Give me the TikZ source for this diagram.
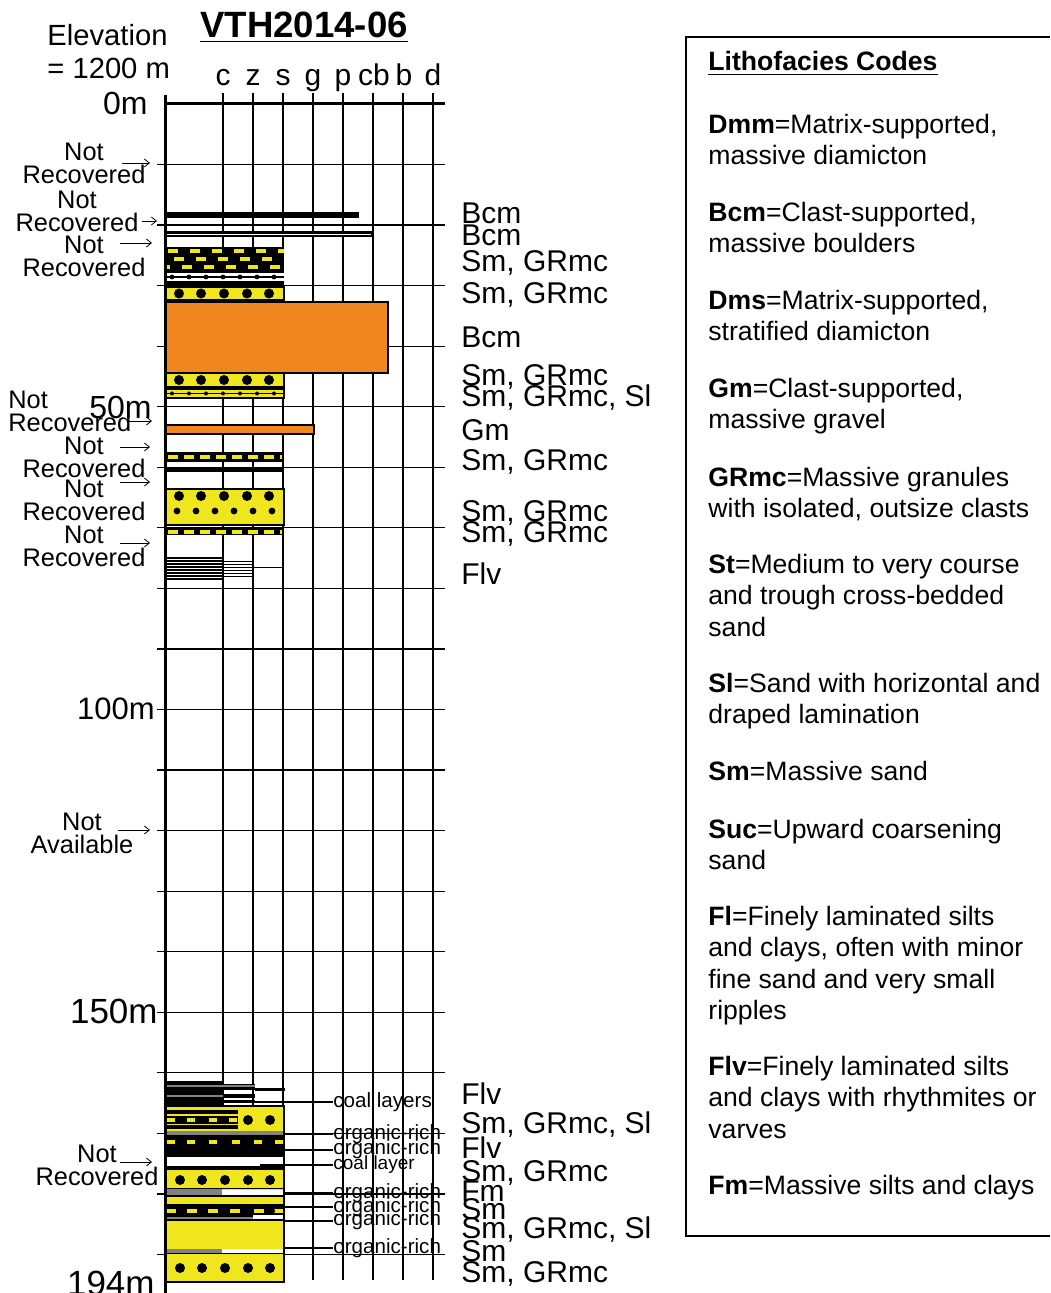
\documentclass[tikz,border=0pt]{standalone}
\usepackage{fontspec}
\setmainfont{Liberation Sans}
\usetikzlibrary{arrows.meta}
\definecolor{sandyellow}{RGB}{240,230,30}
\definecolor{bouldorange}{RGB}{240,135,30}
\definecolor{orggrey}{RGB}{130,130,130}

\begin{document}
\begin{tikzpicture}[x=0.5pt,y=-0.5pt,
  gridline/.style={line width=0.6pt},
  sandbed/.style={fill=sandyellow,draw=black,line width=0.9pt},
  gravelbed/.style={fill=bouldorange,draw=black,line width=1pt},
  sanddash/.style={draw=sandyellow,line width=2pt},
  notearrow/.style={-{Straight Barb[length=2.5pt,width=4pt]},line width=0.4pt},
  nrlabel/.style={align=center,inner sep=0,font=\fontsize{12.7}{11.5}\selectfont},
  depthlabel/.style={anchor=east,inner sep=0,font=\fontsize{16}{16}\selectfont},
  grainsize/.style={anchor=base,inner sep=0,font=\fontsize{15}{15}\selectfont},
  facies/.style={anchor=base west,inner sep=0,font=\fontsize{15}{15}\selectfont},
  note/.style={anchor=west,inner sep=0,font=\fontsize{10.3}{10.3}\selectfont},
  keyentry/.style={anchor=north west,align=left,inner sep=0,font=\fontsize{13.3}{15.6}\selectfont}]
\useasboundingbox (0,0) rectangle (1050,1293);

% grid: one line every 10 m
\foreach \k in {1,...,19}
  \draw[gridline] (157,{104+60.55*\k}) -- (445,{104+60.55*\k});
\foreach \c in {223,253,...,433}
  \draw[gridline] (\c,93) -- (\c,1280);
\draw[line width=1.5pt] (165,104) -- (445,104);

% header
\node[anchor=base,inner sep=0,font=\fontsize{18.3}{18.3}\selectfont\bfseries] (title) at (304,38) {\underline{VTH2014-06}};
\node[anchor=west,align=left,inner sep=0,font=\fontsize{14.6}{16.5}\selectfont] (elev) at (47,52) {Elevation\\= 1200 m};
\foreach \c/\g in {223/c,253/z,283/s,313/g,343/p,374/cb,404/b,433/d}
  \node[grainsize] (gs-\g) at (\c,86) {\g};

% depth labels
\node[depthlabel] (d0) at (148,103) {0m};
\node[depthlabel] (d50) at (152,407) {50m};
\node[depthlabel,font=\fontsize{15.5}{15.5}\selectfont] (d100) at (155,709) {100m};
\node[depthlabel,font=\fontsize{17.5}{17.5}\selectfont] (d150) at (158,1011) {150m};
\node[depthlabel,font=\fontsize{17.5}{17.5}\selectfont] (d194) at (155,1283) {194m};

% upper beds
\fill (165,212) rectangle (359,218);
\fill (165,231) rectangle (374,237);
\draw[white,line width=0.3pt] (165,234) -- (371,234);
\fill (165,247) rectangle (284,287);
\draw[sanddash,dash pattern=on 5pt off 6pt] (168,251) -- (284,251);
\draw[sanddash,dash pattern=on 5pt off 6pt,dash phase=7pt] (166,259) -- (284,259);
\draw[sanddash,dash pattern=on 5pt off 6pt,dash phase=3pt] (166,267) -- (284,267);
\fill[white] (165,273) rectangle (284,281);
\draw[line width=0.8pt] (165,277) -- (284,277);
\foreach \x in {172,189,...,280} \fill (\x,277) circle[radius=1.2pt];
\draw[sandbed] (165,287) rectangle (284,300);
\foreach \x in {179,201,224,247,269} \fill (\x,293.5) circle[radius=2.5pt];
\draw[gravelbed] (165,302) rectangle (388,373);
\draw[sandbed] (165,373) rectangle (284,387);
\foreach \x in {179,201,224,247,269} \fill (\x,380) circle[radius=2.5pt];
\draw[sandbed] (165,389) rectangle (284,398);
\draw[line width=0.6pt] (165,393.5) -- (284,393.5);
\foreach \x in {172,189,...,280} \fill (\x,393.5) circle[radius=1pt];
\draw[gravelbed] (165,425) rectangle (314,434);
\fill (165,452) rectangle (284,462);
\draw[sanddash,dash pattern=on 5pt off 3pt] (168,457) -- (282,457);
\fill (165,467) rectangle (284,472);
\draw[sandbed] (165,489) rectangle (284,525);
\foreach \x in {179,201,224,247,269} \fill (\x,496) circle[radius=2.5pt];
\foreach \x in {177,196,215,234,253,272} \fill (\x,511) circle[radius=1.7pt];
\fill (165,528) rectangle (284,535);
\draw[sanddash,dash pattern=on 5pt off 3pt] (168,531.5) -- (282,531.5);
% laminated silts
\foreach \y in {558,561,...,580} \draw[line width=1.2pt] (165,\y) -- (223,\y);
\foreach \y in {561,564,...,576} \draw[line width=0.5pt] (223,\y) -- (253,\y);
\draw[line width=0.5pt] (253,567) -- (284,567);

% lower beds
\fill (165,1081) rectangle (223,1106);
\fill (223,1084) rectangle (255,1090);
\fill (255,1088) rectangle (285,1091);
\fill (223,1094) rectangle (255,1098);
\fill (223,1100) rectangle (255,1103);
\draw[orggrey,line width=0.6pt] (165,1086) -- (255,1086);
\draw[orggrey,line width=0.6pt] (165,1096) -- (223,1096);
\draw[sandbed] (165,1106) rectangle (284,1282);
\fill (165,1110) rectangle (238,1114);
\fill (165,1116) rectangle (238,1124);
\foreach \x in {171,191,213,233} \draw[sanddash] (\x-4,1120) -- (\x+4,1120);
\foreach \x in {248,270} \fill (\x,1120) circle[radius=2.5pt];
\fill (165,1125) rectangle (238,1129);
\fill[orggrey] (165,1131) rectangle (284,1135);
\fill (165,1135) rectangle (284,1157);
\foreach \x in {171,191,213,236,258,279} \draw[sanddash] (\x-4,1141.5) -- (\x+4,1141.5);
\fill[white] (165,1157) rectangle (284,1166);
\fill (165,1166) rectangle (284,1170);
\foreach \x in {180,202,225,248,270} \fill (\x,1180) circle[radius=2.5pt];
\fill (165,1188) rectangle (284,1189);
\fill[orggrey] (165,1189) rectangle (222,1195);
\fill[white] (222,1189.5) rectangle (284,1195);
\fill (165,1195) rectangle (284,1197);
\fill (165,1204) rectangle (284,1221);
\foreach \x in {171,192,213,235,259,279} \draw[sanddash] (\x-5,1211) -- (\x+5,1211);
\fill (270,1211) circle[radius=2.5pt];
\draw[orggrey,line width=0.8pt] (165,1218) -- (253,1218);
\fill[white] (253,1215) rectangle (284,1219);
\fill[orggrey] (165,1249) rectangle (222,1253);
\fill[white] (222,1249) rectangle (284,1253);
\fill (165,1253) rectangle (284,1254);
\foreach \x in {180,202,225,248,270} \fill (\x,1268) circle[radius=2.5pt];
\draw[line width=0.9pt] (165,1106) rectangle (284,1282);

% depth axis
\draw[line width=1.5pt] (165,95) -- (165,1293);

% facies codes
\node[facies] (lf1) at (461,224) {Bcm};
\node[facies] (lf2) at (461,246) {Bcm};
\node[facies] (lf3) at (461,272) {Sm, GRmc};
\node[facies] (lf4) at (461,304) {Sm, GRmc};
\node[facies] (lf5) at (461,348) {Bcm};
\node[facies] (lf6) at (461,386) {Sm, GRmc};
\node[facies] (lf7) at (461,407) {Sm, GRmc, Sl};
\node[facies] (lf8) at (461,441) {Gm};
\node[facies] (lf9) at (461,471) {Sm, GRmc};
\node[facies] (lf10) at (461,521) {Sm, GRmc};
\node[facies] (lf11) at (461,542) {Sm, GRmc};
\node[facies] (lf12) at (461,584) {Flv};
\node[facies] (lf13) at (461,1104) {Flv};
\node[facies] (lf14) at (461,1133) {Sm, GRmc, Sl};
\node[facies] (lf15) at (461,1158) {Flv};
\node[facies] (lf16) at (461,1181) {Sm, GRmc};
\node[facies] (lf17) at (461,1201) {Fm};
\node[facies] (lf18) at (461,1219) {Sm};
\node[facies] (lf19) at (461,1238) {Sm, GRmc, Sl};
\node[facies] (lf20) at (461,1261) {Sm};
\node[facies] (lf21) at (461,1282) {Sm, GRmc};

% notes on the lower beds
\node[note] (coal1) at (333,1102) {coal layers};
\node[note] (org1) at (333,1134) {organic-rich};
\node[note] (org2) at (333,1149) {organic-rich};
\node[note,font=\fontsize{9.5}{9.5}\selectfont] (coal2) at (333,1165) {coal layer};
\node[note] (org3) at (333,1193) {organic-rich};
\node[note] (org4) at (333,1207) {organic-rich};
\node[note] (org5) at (333,1220) {organic-rich};
\node[note] (org6) at (333,1248) {organic-rich};
\coordinate (c1) at (255,1102);
\coordinate (o1) at (284,1134);
\coordinate (o2) at (284,1150);
\coordinate (c2) at (260,1165);
\coordinate (o3) at (284,1193);
\coordinate (o4) at (284,1207);
\coordinate (o5) at (284,1221);
\coordinate (o6) at (284,1248);
\draw[line width=0.6pt] (c1) -- (c1 -| coal1.west);
\draw[line width=0.6pt] (o1) -- (o1 -| org1.west);
\draw[line width=0.6pt] (o2) -- (o2 -| org2.west);
\draw[line width=0.6pt] (c2) -- (c2 -| coal2.west);
\draw[line width=0.6pt] (o3) -- (o3 -| org3.west);
\draw[line width=0.6pt] (o4) -- (o4 -| org4.west);
\draw[line width=0.6pt] (o5) -- (o5 -| org5.west);
\draw[line width=0.6pt] (o6) -- (o6 -| org6.west);

% gaps in the core
\node[nrlabel] (nr1) at (84,163.5) {Not\\Recovered};
\node[nrlabel] (nr2) at (77,211) {Not\\Recovered};
\node[nrlabel] (nr3) at (84,256.5) {Not\\Recovered};
\node[nrlabel,align=left,anchor=west] (nr4) at (8,411) {Not\\Recovered};
\node[nrlabel] (nr5) at (84,457.5) {Not\\Recovered};
\node[nrlabel] (nr6) at (84,500.5) {Not\\Recovered};
\node[nrlabel] (nr7) at (84,546) {Not\\Recovered};
\node[nrlabel] (nr8) at (82,833.5) {Not\\Available};
\node[nrlabel] (nr9) at (97,1165) {Not\\Recovered};
\coordinate (a1) at (122,163); \coordinate (t1) at (150,163);
\coordinate (a2) at (142,221); \coordinate (t2) at (157,221);
\coordinate (a3) at (120,243); \coordinate (t3) at (152,243);
\coordinate (a4) at (127,421); \coordinate (t4) at (152,421);
\coordinate (a5) at (120,447); \coordinate (t5) at (150,447);
\coordinate (a6) at (120,482); \coordinate (t6) at (150,482);
\coordinate (a7) at (120,543); \coordinate (t7) at (150,543);
\coordinate (a8) at (118,830); \coordinate (t8) at (150,830);
\coordinate (a9) at (120,1162); \coordinate (t9) at (152,1162);
\foreach \i in {1,...,9} \draw[notearrow] (a\i) -- (t\i);

% key
\draw[line width=0.6pt] (1050,37) -- (686,37) -- (686,1236) -- (1050,1236);
\node[anchor=base west,inner sep=0,font=\fontsize{13.3}{15.6}\selectfont\bfseries] (keytitle) at (708,71) {\underline{Lithofacies Codes}};
\node[keyentry] (key-dmm) at (708,114) {\textbf{Dmm}=Matrix-supported,\\massive diamicton};
\node[keyentry] (key-bcm) at (708,202) {\textbf{Bcm}=Clast-supported,\\massive boulders};
\node[keyentry] (key-dms) at (708,290) {\textbf{Dms}=Matrix-supported,\\stratified diamicton};
\node[keyentry] (key-gm) at (708,378) {\textbf{Gm}=Clast-supported,\\massive gravel};
\node[keyentry] (key-grmc) at (708,467) {\textbf{GRmc}=Massive granules\\with isolated, outsize clasts};
\node[keyentry] (key-st) at (708,554) {\textbf{St}=Medium to very course\\and trough cross-bedded\\sand};
\node[keyentry] (key-sl) at (708,673) {\textbf{Sl}=Sand with horizontal and\\draped lamination};
\node[keyentry] (key-sm) at (708,761) {\textbf{Sm}=Massive sand};
\node[keyentry] (key-suc) at (708,819) {\textbf{Suc}=Upward coarsening\\sand};
\node[keyentry] (key-fl) at (708,906) {\textbf{Fl}=Finely laminated silts\\and clays, often with minor\\fine sand and very small\\ripples};
\node[keyentry] (key-flv) at (708,1056) {\textbf{Flv}=Finely laminated silts\\and clays with rhythmites or\\varves};
\node[keyentry] (key-fm) at (708,1175) {\textbf{Fm}=Massive silts and clays};
\end{tikzpicture}
\end{document}
